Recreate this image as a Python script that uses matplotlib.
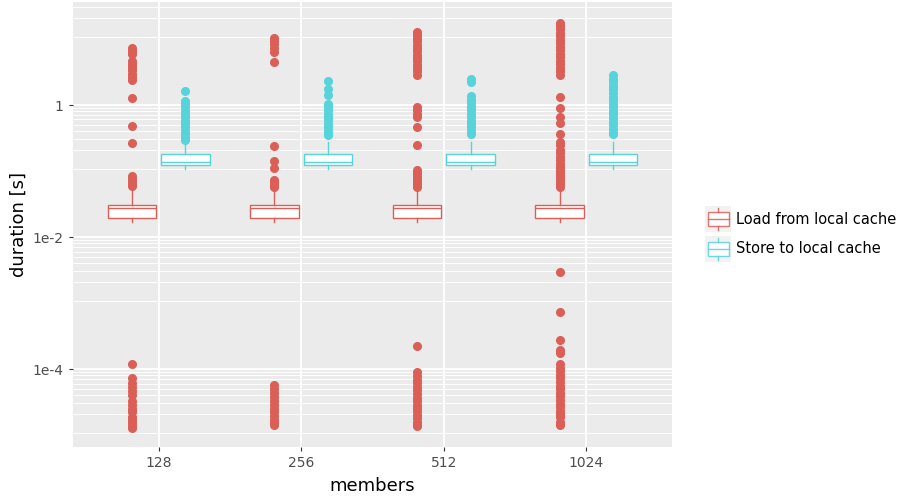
import matplotlib
matplotlib.use("Agg")
import matplotlib.pyplot as plt
from matplotlib.patches import Rectangle
from matplotlib.lines import Line2D
from matplotlib.ticker import NullFormatter

# categories and series
members = ["128", "256", "512", "1024"]
series = ["Load from local cache", "Store to local cache"]
colors = ["#db5f57", "#57d3db"]

# box statistics (same for every member count)
load_stats = dict(whislo=0.0171, q1=0.0195, med=0.0273, q3=0.0305, whishi=0.052)
store_stats = dict(whislo=0.106, q1=0.124, med=0.139, q3=0.179, whishi=0.278)

# outliers, one list per box
load_128 = [7.3, 6.6, 6.0, 4.6, 4.2, 3.8, 3.4, 3.0, 2.7, 2.4, 1.27, 0.48, 0.27,
            0.084, 0.077, 0.070, 0.064, 0.059,
            1.19e-4, 7.4e-5, 6.1e-5, 5.4e-5, 4.6e-5, 4.1e-5, 3.3e-5, 2.9e-5,
            2.5e-5, 2.2e-5, 1.9e-5, 1.7e-5, 1.5e-5, 1.35e-5, 1.3e-5]
load_256 = [10.2, 9.2, 8.3, 7.4, 6.3, 4.5, 0.241, 0.143, 0.11,
            0.074, 0.068, 0.062, 0.058,
            5.7e-5, 5.0e-5, 4.4e-5, 3.8e-5, 3.3e-5, 2.9e-5, 2.5e-5, 2.2e-5,
            1.95e-5, 1.7e-5, 1.5e-5, 1.4e-5]
load_512 = [13.0, 11.6, 10.3, 9.2, 8.2, 7.3, 6.5, 5.8, 5.2, 4.6, 4.1, 3.7, 3.3,
            2.9, 0.93, 0.83, 0.73, 0.66, 0.47, 0.248,
            0.104, 0.094, 0.085, 0.077, 0.070, 0.064, 0.058,
            2.2e-4, 8.9e-5, 7.8e-5, 6.9e-5, 6.1e-5, 5.4e-5, 4.8e-5, 4.2e-5,
            3.7e-5, 3.3e-5, 2.9e-5, 2.6e-5, 2.3e-5, 2.0e-5, 1.8e-5, 1.6e-5,
            1.4e-5, 1.35e-5]
load_1024 = [17.8, 15.8, 14.0, 12.4, 11.0, 9.7, 8.6, 7.6, 6.8, 6.0, 5.3, 4.7,
             4.2, 3.7, 3.3, 2.9, 1.33, 0.89, 0.66, 0.53, 0.36, 0.28,
             0.245, 0.21, 0.185, 0.165, 0.145, 0.13, 0.115, 0.104, 0.094,
             0.085, 0.077, 0.070, 0.064, 0.058,
             2.95e-3, 7.4e-4, 2.8e-4, 1.95e-4, 1.75e-4,
             1.2e-4, 1.05e-4, 9.3e-5, 8.2e-5, 7.2e-5, 6.4e-5, 5.6e-5, 5.0e-5,
             4.4e-5, 3.9e-5, 3.4e-5, 3.0e-5, 2.65e-5, 2.35e-5, 2.1e-5,
             1.85e-5, 1.6e-5, 1.45e-5, 1.4e-5]
store_128 = [1.63, 1.15, 1.03, 0.92, 0.82, 0.73, 0.65, 0.58, 0.52, 0.46, 0.41,
             0.37, 0.33, 0.30]
store_256 = [2.31, 1.75, 1.42, 1.02, 0.93, 0.83, 0.74, 0.66, 0.59, 0.52, 0.46,
             0.41, 0.37, 0.35]
store_512 = [2.5, 2.2, 1.37, 1.21, 1.07, 0.95, 0.84, 0.74, 0.66, 0.58, 0.52,
             0.46, 0.41, 0.36]
store_1024 = [2.85, 2.5, 2.2, 1.95, 1.72, 1.52, 1.34, 1.18, 1.04, 0.92, 0.81,
              0.72, 0.63, 0.56, 0.49, 0.43, 0.38, 0.36]

load_fliers = [load_128, load_256, load_512, load_1024]
store_fliers = [store_128, store_256, store_512, store_1024]

y_major = [1e-4, 1e-2, 1]
y_major_labels = ["1e-4", "1e-2", "1"]

W, H = 902, 497
fig = plt.figure(figsize=(W / 100, H / 100), dpi=100)
ax = fig.add_axes([73 / W, 50 / H, 599 / W, 445 / H])
ax.set_facecolor("#EBEBEB")
for s in ax.spines.values():
    s.set_visible(False)

offset = 0.1875
width = 0.34
for stats, fliers, color, sign in [(load_stats, load_fliers, colors[0], -1),
                                   (store_stats, store_fliers, colors[1], 1)]:
    boxes = []
    for i in range(len(members)):
        d = dict(stats)
        d["fliers"] = fliers[i]
        boxes.append(d)
    positions = [i + 1 + sign * offset for i in range(len(members))]
    ax.bxp(boxes, positions=positions, widths=width, patch_artist=True,
           showcaps=False, zorder=3, manage_ticks=False,
           boxprops=dict(facecolor="white", edgecolor=color, linewidth=1.0),
           medianprops=dict(color=color, linewidth=1.0),
           whiskerprops=dict(color=color, linewidth=1.0),
           flierprops=dict(marker="o", markerfacecolor=color,
                           markeredgecolor=color, markersize=5.5))

ax.set_yscale("log")

ax.set_yticks(y_major)
ax.set_yticklabels(y_major_labels)
ext = [1e-6] + y_major + [100]
minor = []
for a, b in zip(ext[:-1], ext[1:]):
    minor += [a + k * (b - a) / 10 for k in range(1, 10)]
ax.set_yticks(minor, minor=True)
ax.yaxis.set_minor_formatter(NullFormatter())
ax.set_xticks(range(1, len(members) + 1))
ax.set_xticklabels(members)

ax.set_ylim(6.6e-6, 36.4)
ax.set_xlim(0.4, 4.6)

ax.tick_params(which="major", direction="out", length=3, width=0.8,
               color="#333333", labelcolor="#4D4D4D", labelsize=10)
ax.tick_params(axis="y", pad=4.0)
ax.tick_params(axis="x", pad=3.5)
ax.tick_params(which="minor", length=0)
ax.grid(which="major", color="white", linewidth=1.3, zorder=0)
ax.grid(which="minor", axis="y", color="white", linewidth=0.65, zorder=0)
ax.set_axisbelow(True)

ax.set_xlabel("members", fontsize=13)
ax.xaxis.set_label_coords(0.5, -0.087)
ax.xaxis.label.set_va("center")
ax.set_ylabel("duration [s]", fontsize=13)
ax.yaxis.set_label_coords(-0.09, 0.5)
ax.yaxis.label.set_va("center")


def fx(x):
    return x / W


def fy(y):
    return 1 - y / H


# legend drawn in figure pixel terms
for j, (label, color) in enumerate(zip(series, colors)):
    top = 206 + j * 29.5
    fig.add_artist(Rectangle((fx(705), fy(top + 26)), 26 / W, 26 / H,
                             transform=fig.transFigure, facecolor="#F2F2F2",
                             edgecolor="none"))
    fig.add_artist(Rectangle((fx(707.5), fy(top + 20)), 21 / W, 14 / H,
                             transform=fig.transFigure, facecolor="white",
                             edgecolor=color, linewidth=1.0, alpha=0.85))
    fig.add_artist(Line2D([fx(707.5), fx(728.5)], [fy(top + 13), fy(top + 13)],
                          transform=fig.transFigure, color=color, lw=1.0,
                          alpha=0.85))
    fig.add_artist(Line2D([fx(718), fx(718)], [fy(top + 2), fy(top + 6)],
                          transform=fig.transFigure, color=color, lw=1.0,
                          alpha=0.85))
    fig.add_artist(Line2D([fx(718), fx(718)], [fy(top + 20), fy(top + 24)],
                          transform=fig.transFigure, color=color, lw=1.0,
                          alpha=0.85))
    fig.text(fx(736), fy(top + 13), label, fontsize=10.5, color="black",
             va="center", ha="left")

fig.savefig("out.png", dpi=100)
